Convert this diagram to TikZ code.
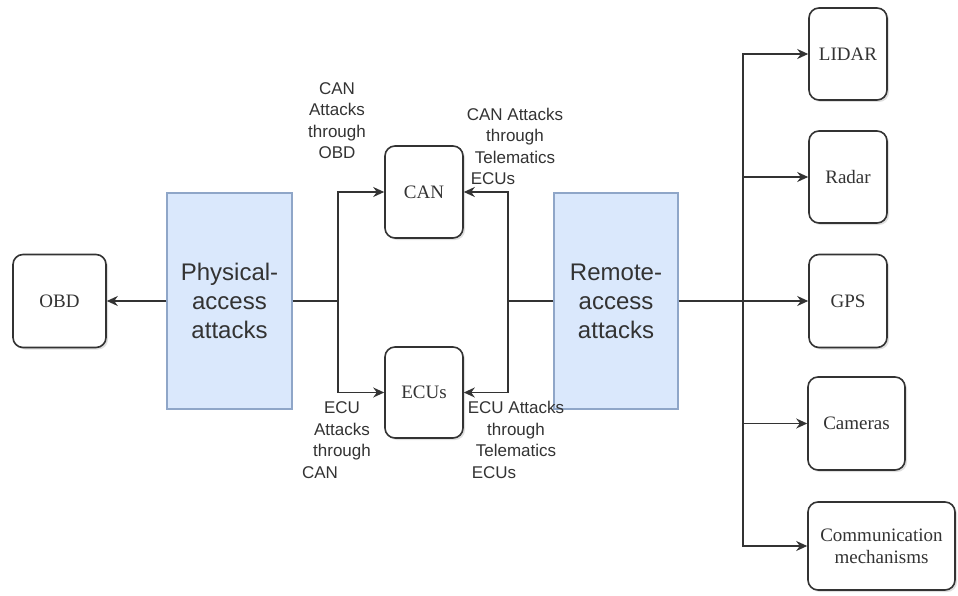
\documentclass[tikz,border=0pt]{standalone}
\usepackage{fontspec}
\setmainfont{Liberation Serif}
\setsansfont{Liberation Sans}
\usetikzlibrary{arrows.meta,shadows}
\definecolor{ln}{HTML}{333333}
\definecolor{bfill}{HTML}{DAE8FC}
\definecolor{bdraw}{HTML}{8FA6C8}
\begin{document}
\begin{tikzpicture}[x=1pt,y=-1pt,
  comp/.style={draw=ln, line width=1.6pt, rounded corners=10pt, fill=white,
    drop shadow={opacity=0.25,shadow xshift=2pt,shadow yshift=-2pt},
    font=\fontsize{19}{22}\selectfont, text=ln, inner sep=0pt, align=center},
  attack/.style={draw=bdraw, fill=bfill, line width=1.2pt,
    font=\sffamily\fontsize{24}{29}\selectfont, text=ln, align=center, inner sep=0pt},
  lbl/.style={font=\sffamily\fontsize{17}{21.5}\selectfont, text=ln, align=center, inner sep=0pt},
  wire/.style={draw=ln, line width=1.6pt},
  arr/.style={draw=ln, line width=1.6pt, -{Stealth[length=11pt,width=10pt]}}
]
\useasboundingbox (0,0) rectangle (958,596);
\fill[white] (0,0) rectangle (958,596);

% boxes
\node[comp, minimum width=93pt, minimum height=93pt] (obd) at (59.5,301) {OBD};
\node[attack, minimum width=125pt, minimum height=216pt] (phys) at (229.5,301) {Physical-\\access\\attacks};
\node[comp, minimum width=78pt, minimum height=92pt] (can) at (424,192) {CAN};
\node[comp, minimum width=78pt, minimum height=91pt] (ecus) at (424,392.5) {ECUs};
\node[attack, minimum width=124pt, minimum height=216pt] (remote) at (616,301) {Remote-\\access\\attacks};
\node[comp, minimum width=78pt, minimum height=92pt] (lidar) at (848,54) {LIDAR};
\node[comp, minimum width=78pt, minimum height=92pt] (radar) at (848,177) {Radar};
\node[comp, minimum width=78pt, minimum height=93pt] (gps) at (848,301) {GPS};
\node[comp, minimum width=97pt, minimum height=93pt] (cams) at (856.5,423.5) {Cameras};
\node[comp, minimum width=147pt, minimum height=88pt] (comm) at (881.5,546) {Communication\\mechanisms};

% junctions
\coordinate (jl) at (338,301);
\coordinate (jr) at (508,301);
\coordinate (bus) at (743,301);

% connectors
\draw[arr] (phys.west) -- (obd.east);
\draw[wire] (phys.east) -- (jl);
\draw[arr] (jl) |- (can.west);
\draw[arr] (jl) |- (ecus.west);
\draw[wire] (remote.west) -- (jr);
\draw[arr] (jr) |- (can.east);
\draw[arr] (jr) |- (ecus.east);
\draw[arr] (remote.east) -- (gps.west);
\draw[arr] (bus) |- (lidar.west);
\draw[arr] (bus) |- (radar.west);
\draw[arr] (bus) |- (cams.west);
\draw[arr] (bus) |- (comm.west);

% labels
\node[lbl] (l1) at (337,120.5) {CAN\\Attacks\\through\\OBD};
\node[lbl] (l2) at (515,146.5) {CAN Attacks\\through\\Telematics\\ECUs\hspace*{44pt}};
\node[lbl] (l3) at (342,440) {ECU\\Attacks\\through\\CAN\hspace*{44pt}};
\node[lbl] (l4) at (516,440) {ECU Attacks\\through\\Telematics\\ECUs\hspace*{44pt}};
\end{tikzpicture}
\end{document}
